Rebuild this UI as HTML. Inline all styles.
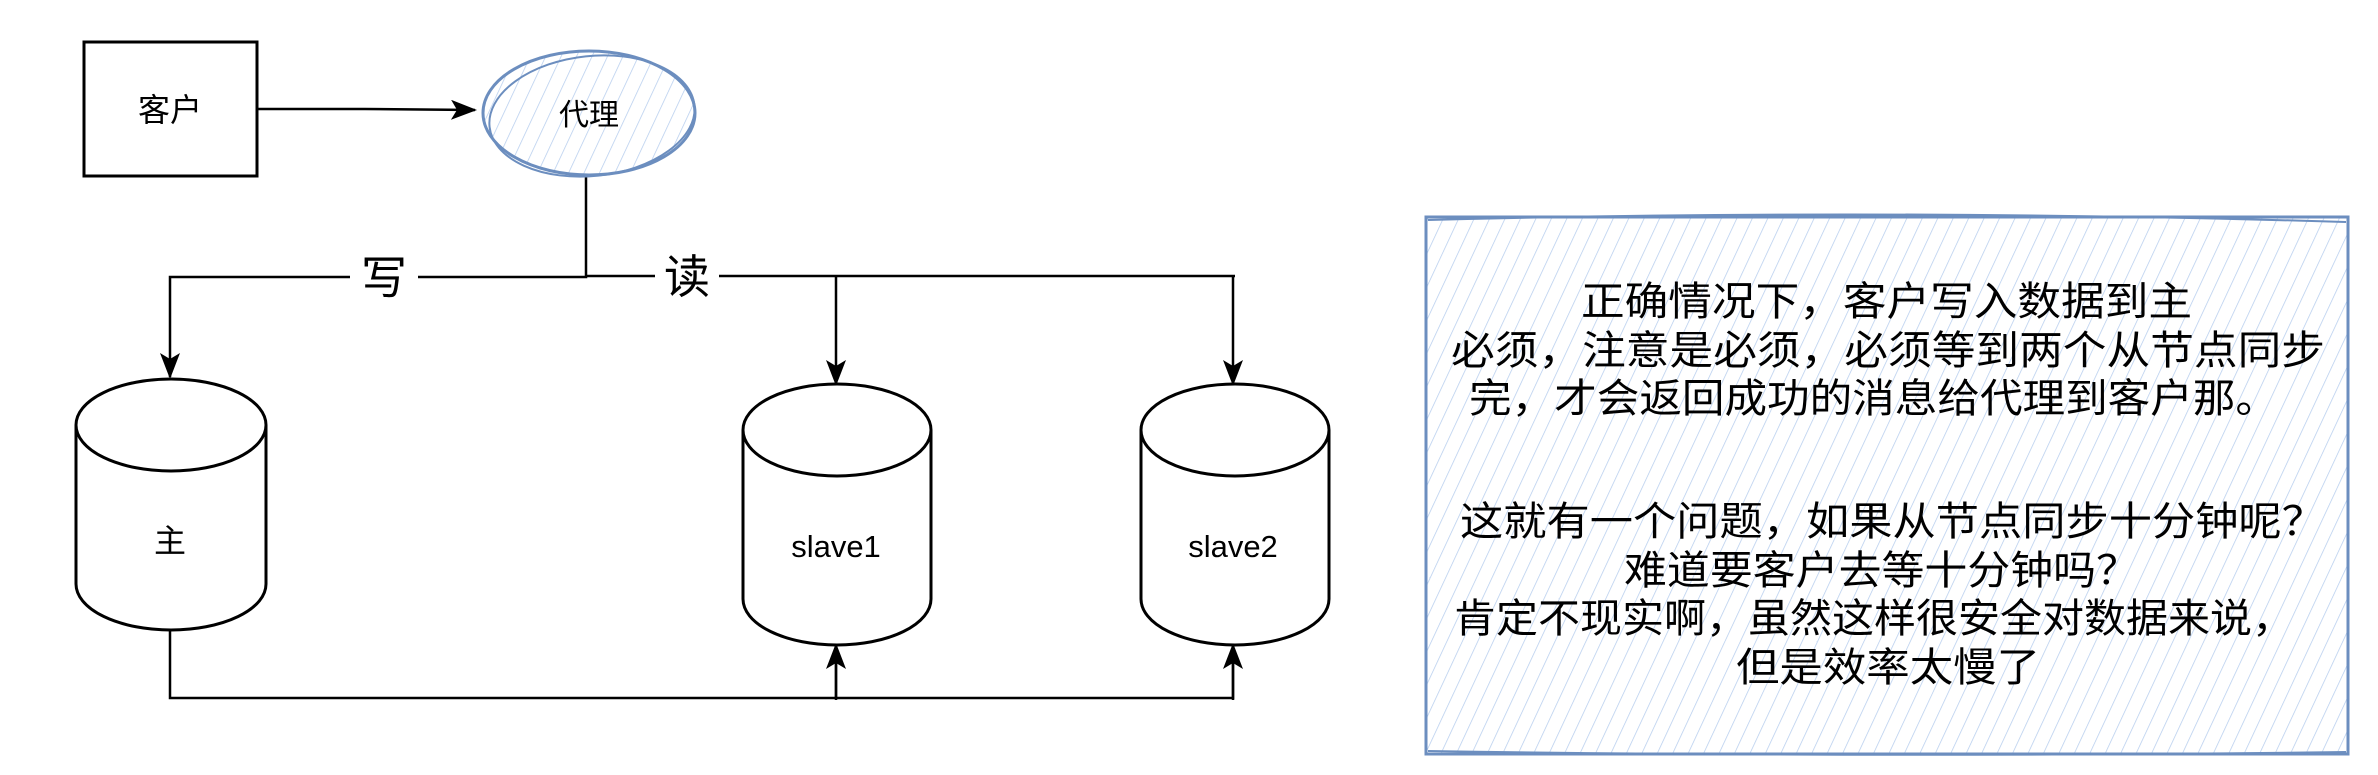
<!DOCTYPE html>
<html><head><meta charset="utf-8"><style>
html,body{margin:0;padding:0;background:#fff;}
svg{display:block;}
text{font-family:"Liberation Sans","Noto Sans CJK SC",sans-serif;fill:#000;}
</style></head><body>
<svg width="2378" height="775" viewBox="0 0 2378 775" xmlns="http://www.w3.org/2000/svg">
<defs>
<pattern id="h" patternUnits="userSpaceOnUse" width="14" height="14" patternTransform="rotate(25)">
<line x1="0" y1="0" x2="0" y2="14" stroke="#b6cdee" stroke-width="1.5"/>
</pattern>
<marker id="a" markerWidth="26" markerHeight="20" refX="24" refY="10" orient="auto" markerUnits="userSpaceOnUse">
<path d="M0,0 L26,10 L0,20 L6,10 Z" fill="#000"/>
</marker>
</defs>
<g stroke="#000" stroke-width="3" fill="none">
<rect x="84" y="42" width="173" height="134" fill="#fff"/>
<path d="M257,109 L365,109 L475,110" marker-end="url(#a)" stroke-width="2.5"/>
<path d="M586,177 L586,277 L170,277 L170,377" marker-end="url(#a)" stroke-width="2.5"/>
<path d="M586,276 L1235,276" stroke-width="2.5"/>
<path d="M836,276 L836,384" marker-end="url(#a)" stroke-width="2.5"/>
<path d="M1233,276 L1233,384" marker-end="url(#a)" stroke-width="2.5"/>
<path d="M170,630 L170,698 L1233,698 L1233,660" stroke-width="2.5"/>
<path d="M836,698 L836,660" stroke-width="2.5"/>
<path d="M836,700 L836,645" marker-end="url(#a)" stroke-width="2.5"/>
<path d="M1233,700 L1233,645" marker-end="url(#a)" stroke-width="2.5"/>
</g>
<g stroke="#000" stroke-width="3" fill="#fff">
<path d="M76,425 A95,46 0 0 1 266,425 L266,584 A95,46 0 0 1 76,584 Z"/>
<path d="M76,425 A95,46 0 0 0 266,425" fill="none"/>
<path d="M743,430 A94,46 0 0 1 931,430 L931,599 A94,46 0 0 1 743,599 Z"/>
<path d="M743,430 A94,46 0 0 0 931,430" fill="none"/>
<path d="M1141,430 A94,46 0 0 1 1329,430 L1329,599 A94,46 0 0 1 1141,599 Z"/>
<path d="M1141,430 A94,46 0 0 0 1329,430" fill="none"/>
</g>
<ellipse cx="589" cy="113" rx="106" ry="62" fill="url(#h)"/>
<ellipse cx="589" cy="113" rx="106" ry="62" fill="none" stroke="#6c8ebf" stroke-width="3"/>
<ellipse cx="592" cy="116" rx="103" ry="60" fill="none" stroke="#6c8ebf" stroke-width="2" transform="rotate(-6 592 116)"/>
<text x="170" y="121" font-size="32" text-anchor="middle">客户</text>
<text x="589" y="125" font-size="30" text-anchor="middle">代理</text>
<rect x="350" y="255" width="68" height="46" fill="#fff"/>
<text x="384" y="294" font-size="46" text-anchor="middle">写</text>
<rect x="655" y="255" width="64" height="44" fill="#fff"/>
<text x="687" y="293" font-size="46" text-anchor="middle">读</text>
<text x="170" y="552" font-size="32" text-anchor="middle">主</text>
<text x="836" y="557" font-size="31" text-anchor="middle">slave1</text>
<text x="1233" y="557" font-size="31" text-anchor="middle">slave2</text>
<rect x="1426" y="217" width="922" height="537" fill="url(#h)"/>
<rect x="1426" y="217" width="922" height="537" fill="none" stroke="#6c8ebf" stroke-width="3"/>
<path d="M1428,220 Q1880,208 2346,222" fill="none" stroke="#6c8ebf" stroke-width="2"/>
<path d="M1428,751 Q1880,758 2346,752" fill="none" stroke="#6c8ebf" stroke-width="2"/>
<g font-size="40">
<text x="1581" y="315" textLength="611" lengthAdjust="spacingAndGlyphs">正确情况下，客户写入数据到主</text>
<text x="1451" y="364" textLength="874" lengthAdjust="spacingAndGlyphs">必须，注意是必须，必须等到两个从节点同步</text>
<text x="1469" y="412" textLength="809" lengthAdjust="spacingAndGlyphs">完，才会返回成功的消息给代理到客户那。</text>
<text x="1460" y="535" textLength="865" lengthAdjust="spacingAndGlyphs">这就有一个问题，如果从节点同步十分钟呢？</text>
<text x="1624" y="584" textLength="515" lengthAdjust="spacingAndGlyphs">难道要客户去等十分钟吗？</text>
<text x="1454" y="632" textLength="840" lengthAdjust="spacingAndGlyphs">肯定不现实啊，虽然这样很安全对数据来说，</text>
<text x="1736" y="681" textLength="304" lengthAdjust="spacingAndGlyphs">但是效率太慢了</text>
</g>
</svg>
</body></html>
